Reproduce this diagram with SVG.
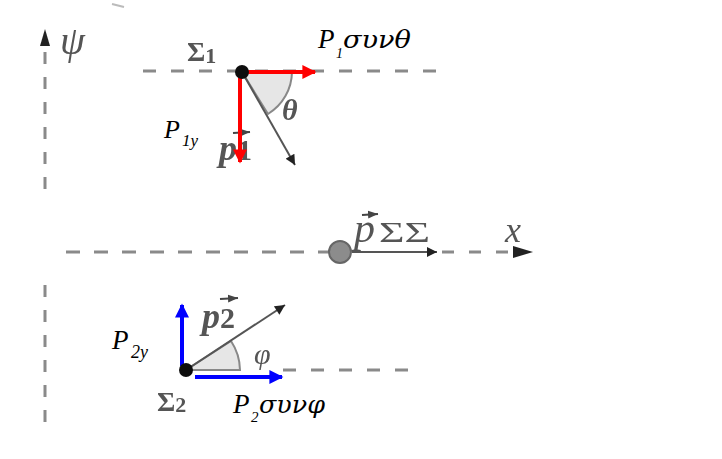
<svg xmlns="http://www.w3.org/2000/svg" width="722" height="459" viewBox="0 0 722 459">
<defs>
<filter id="soft" x="-10%" y="-10%" width="120%" height="120%"><feGaussianBlur stdDeviation="0.7"/></filter>
<marker id="ag" viewBox="0 0 10 10" refX="10" refY="5" markerWidth="6" markerHeight="5" markerUnits="strokeWidth" orient="auto"><path d="M0,0 L10,5 L0,10 z" fill="#222"/></marker>
<marker id="ar" viewBox="0 0 10 10" refX="9" refY="5" markerWidth="4" markerHeight="3.5" markerUnits="strokeWidth" orient="auto"><path d="M0,0 L10,5 L0,10 z" fill="#ff0000"/></marker>
<marker id="ab" viewBox="0 0 10 10" refX="9" refY="5" markerWidth="4" markerHeight="3.5" markerUnits="strokeWidth" orient="auto"><path d="M0,0 L10,5 L0,10 z" fill="#0000ff"/></marker>
<marker id="asm" viewBox="0 0 10 10" refX="10" refY="5" markerWidth="5" markerHeight="5" markerUnits="strokeWidth" orient="auto"><path d="M0,1 L10,5 L0,9 z" fill="#444"/></marker>
</defs>
<style>
.dash{stroke:#8a8a8a;stroke-width:3;stroke-dasharray:13 15;fill:none}
.gline{stroke:#555;stroke-width:2;fill:none}
.gt{font-family:"Liberation Serif",serif;fill:#555}
.bt{font-family:"Liberation Serif",serif;fill:#000;font-style:italic}
.gk{font-family:"DejaVu Serif","Liberation Serif",serif;fill:#000;font-style:italic}
.red{stroke:#ff0000;stroke-width:4;fill:none}
.blue{stroke:#0000ff;stroke-width:4;fill:none}
.arc{fill:#e6e6e6;stroke:#888;stroke-width:2}
</style>
<rect width="722" height="459" fill="#fff"/>
<g filter="url(#soft)">
<path d="M112,4 L124,7" stroke="#bbb" stroke-width="2"/>
</g>
<g id="axes" filter="url(#soft)">
<line class="dash" x1="45" y1="52" x2="45" y2="198" style="stroke-dasharray:12 13"/>
<path d="M45,29 L50,46 L40,46 z" fill="#222"/>
<line class="dash" x1="45" y1="285" x2="45" y2="432" style="stroke-dasharray:12 13"/>
<text class="gt" x="60" y="54" font-size="40" font-style="italic">ψ</text>
<line class="dash" x1="66" y1="252" x2="330" y2="252" style="stroke-dasharray:14 14"/>
<line class="dash" x1="442" y1="252" x2="515" y2="252" style="stroke-dasharray:12 15"/>
<path d="M533,252 L513,246 L513,258 z" fill="#222"/>
<text class="gt" x="505" y="242" font-size="36" font-style="italic">x</text>
<line class="dash" x1="143" y1="71" x2="440" y2="71"/>
<line class="dash" x1="283" y1="370" x2="413" y2="370"/>
</g>
<g id="sigma1">
<g filter="url(#soft)">
<path class="arc" d="M242,72 L292,72 A50,50 0 0 1 268,114 z"/>
<line class="gline" x1="242" y1="72" x2="295" y2="165" marker-end="url(#ag)"/>
<text class="gt" x="187" y="61" font-size="28" font-weight="bold">Σ<tspan font-size="22" dy="2">1</tspan></text>
<text class="gt" x="282" y="120" font-size="30" font-weight="bold" font-style="italic">θ</text>
<text class="gt" x="219" y="160" font-size="36" font-weight="bold" font-style="italic">p<tspan font-style="normal" font-size="30">1</tspan></text>
<line x1="233" y1="133" x2="250" y2="132" stroke="#444" stroke-width="2" marker-end="url(#asm)"/>
</g>
<line class="red" x1="242" y1="72" x2="315" y2="72" marker-end="url(#ar)"/>
<line class="red" x1="240" y1="76" x2="240" y2="162" marker-end="url(#ar)"/>
<circle cx="242" cy="72" r="7" fill="#111" filter="url(#soft)"/>
<text class="bt" x="318" y="48" font-size="27">P</text>
<text class="bt" x="336" y="58" font-size="14" font-style="normal">1</text>
<text class="gk" x="343" y="48" font-size="25" textLength="68" lengthAdjust="spacingAndGlyphs">συνθ</text>
<text class="bt" x="164" y="138" font-size="26">P</text>
<text class="bt" x="182" y="146" font-size="17" font-style="normal">1<tspan font-style="italic">y</tspan></text>
</g>
<g id="center">
<g filter="url(#soft)">
<line class="gline" x1="352" y1="252" x2="437" y2="252" marker-end="url(#ag)"/>
<circle cx="340" cy="252" r="11" fill="#8c8c8c" stroke="#666" stroke-width="2"/>
<text class="gt" x="354" y="242" font-size="42" font-style="italic">p</text>
<line x1="362" y1="215" x2="378" y2="214" stroke="#444" stroke-width="2" marker-end="url(#asm)"/>
<text class="gt" x="379" y="242" font-size="30" font-family="DejaVu Serif, serif" textLength="51" lengthAdjust="spacingAndGlyphs">ΣΣ</text>
</g>
</g>
<g id="sigma2">
<g filter="url(#soft)">
<path class="arc" d="M186,370 L240,370 A54,54 0 0 0 231,341 z"/>
<line class="gline" x1="186" y1="370" x2="285" y2="305" marker-end="url(#ag)"/>
<text class="gt" x="157" y="411" font-size="28" font-weight="bold">Σ<tspan font-size="22" dy="1">2</tspan></text>
<text class="gt" x="254" y="364" font-size="30" font-style="italic">φ</text>
<text class="gt" x="202" y="328" font-size="36" font-weight="bold" font-style="italic">p<tspan font-style="normal" font-size="30">2</tspan></text>
<line x1="220" y1="299" x2="238" y2="298" stroke="#444" stroke-width="2" marker-end="url(#asm)"/>
</g>
<line class="blue" x1="182" y1="366" x2="182" y2="305" marker-end="url(#ab)"/>
<line class="blue" x1="195" y1="377" x2="282" y2="377" marker-end="url(#ab)"/>
<circle cx="186" cy="370" r="7" fill="#111" filter="url(#soft)"/>
<text class="bt" x="233" y="413" font-size="27">P</text>
<text class="bt" x="251" y="422" font-size="15" font-style="normal">2</text>
<text class="gk" x="259" y="413" font-size="25" textLength="66" lengthAdjust="spacingAndGlyphs">συνφ</text>
<text class="bt" x="112" y="349" font-size="27">P</text>
<text class="bt" x="131" y="358" font-size="18" font-style="normal">2<tspan font-style="italic">y</tspan></text>
</g>
</svg>
